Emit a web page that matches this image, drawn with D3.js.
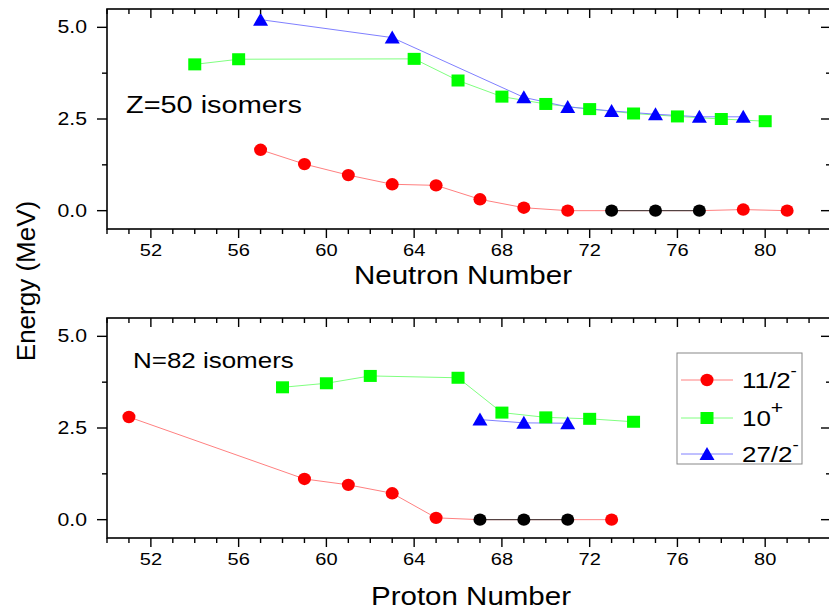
<!DOCTYPE html>
<html><head><meta charset="utf-8">
<script src="https://cdn.jsdelivr.net/npm/d3@7"></script>
<style>body{margin:0;background:#fff}svg{display:block}text{font-family:"Liberation Sans",Arial,sans-serif;fill:#000}</style>
</head><body><svg id="c" width="829" height="609"></svg>
<script>
// ---- data ----
const xTicks = [52, 56, 60, 64, 68, 72, 76, 80];
const yTicks = [0.0, 2.5, 5.0];
const legendLabels = ["11/2", "10", "27/2"];
const legendSup = ["-", "+", "-"];

// Z=50 isomers (x = neutron number)
const zRedN = [57, 59, 61, 63, 65, 67, 69, 71, 73, 75, 77, 79, 81];
const zRedE = [1.66, 1.27, 0.97, 0.72, 0.69, 0.31, 0.08, 0.0, 0.0, 0.0, 0.0, 0.03, 0.0];
const zBlackN = [73, 75, 77];
const zGreenN = [54, 56, 64, 66, 68, 70, 72, 74, 76, 78, 80];
const zGreenE = [3.99, 4.13, 4.14, 3.55, 3.11, 2.91, 2.77, 2.65, 2.57, 2.50, 2.44];
const zBlueN = [57, 63, 69, 71, 73, 75, 77, 79];
const zBlueE = [5.21, 4.72, 3.09, 2.83, 2.72, 2.63, 2.56, 2.56];

// N=82 isomers (x = proton number)
const nRedN = [51, 59, 61, 63, 65, 67, 69, 71, 73];
const nRedE = [2.80, 1.11, 0.95, 0.72, 0.05, 0.0, 0.0, 0.0, 0.0];
const nBlackN = [67, 69, 71];
const nGreenN = [58, 60, 62, 66, 68, 70, 72, 74];
const nGreenE = [3.61, 3.72, 3.92, 3.87, 2.92, 2.79, 2.75, 2.67];
const nBlueN = [67, 69, 71];
const nBlueE = [2.73, 2.64, 2.63];

// ---- drawing ----
const svg = d3.select("#c");
const SX = 1.18; // horizontal text stretch
const L = 107, R = 831;
const x = d3.scaleLinear().domain([50, 83]).range([L, R]);
const colors = {red: "#ff0000", green: "#00ff00", blue: "#0000ff"};
const lineColors = {red: "#ff8080", green: "#80ff80", blue: "#8080ff"};

function txt(g, tx, ty, s, size, anchor) {
  return g.append("text").attr("transform", `translate(${tx},${ty}) scale(${SX},1)`)
    .attr("font-size", size).attr("text-anchor", anchor || "start").text(s);
}

function marker(g, kind, cx, cy, fill) {
  if (kind === "circle") {
    g.append("ellipse").attr("cx", cx).attr("cy", cy).attr("rx", 6.5).attr("ry", 6.2).attr("fill", fill);
  } else if (kind === "square") {
    g.append("rect").attr("x", cx - 6.5).attr("y", cy - 6).attr("width", 13).attr("height", 12).attr("fill", fill);
  } else {
    g.append("path").attr("d", `M${cx},${cy - 7}L${cx + 7.5},${cy + 6}L${cx - 7.5},${cy + 6}Z`).attr("fill", fill);
  }
}

function panel(top, bottom, title, titleX, titleY, titleSize, xlabel, xlabelX, xlabelY, red, black, green, blue) {
  const y = d3.scaleLinear().domain([-0.5, 5.5]).range([bottom, top]);
  const g = svg.append("g");
  const line = d3.line().x(d => x(d[0])).y(d => y(d[1]));
  const series = [
    {k: "green", m: "square", d: d3.zip(green[0], green[1])},
    {k: "blue", m: "triangle", d: d3.zip(blue[0], blue[1])},
    {k: "red", m: "circle", d: d3.zip(red[0], red[1])}
  ];
  series.forEach(s => {
    g.append("path").attr("d", line(s.d)).attr("fill", "none")
      .attr("stroke", lineColors[s.k]).attr("stroke-width", 1);
  });
  const blk = d3.zip(red[0], red[1]).filter(d => black.includes(d[0]));
  g.append("path").attr("d", line(blk)).attr("fill", "none").attr("stroke", "#333").attr("stroke-width", 1);
  series.forEach(s => {
    s.d.forEach(d => marker(g, s.m, x(d[0]), y(d[1]),
      (s.k === "red" && black.includes(d[0])) ? "#000" : colors[s.k]));
  });

  g.append("rect").attr("x", L).attr("y", top).attr("width", R - L).attr("height", bottom - top)
    .attr("fill", "none").attr("stroke", "#000").attr("stroke-width", 1.6);

  d3.range(50, 84, 1).forEach(v => {
    const len = xTicks.includes(v) ? 9 : 5;
    g.append("line").attr("x1", x(v)).attr("x2", x(v)).attr("y1", bottom).attr("y2", bottom + len).attr("stroke", "#000").attr("stroke-width", 1.4);
    g.append("line").attr("x1", x(v)).attr("x2", x(v)).attr("y1", top).attr("y2", top + len).attr("stroke", "#000").attr("stroke-width", 1.4);
  });
  xTicks.forEach(v => txt(g, x(v), bottom + 27, String(v), 17, "middle"));

  [0, 1.25, 2.5, 3.75, 5].forEach(v => {
    const len = yTicks.includes(v) ? 10 : 5;
    g.append("line").attr("x1", L - len).attr("x2", L).attr("y1", y(v)).attr("y2", y(v)).attr("stroke", "#000").attr("stroke-width", 1.4);
    g.append("line").attr("x1", R - len).attr("x2", R).attr("y1", y(v)).attr("y2", y(v)).attr("stroke", "#000").attr("stroke-width", 1.4);
  });
  yTicks.forEach(v => txt(g, 87, y(v) + 6, v.toFixed(1), 18, "end"));

  txt(g, titleX, titleY, title, titleSize);
  txt(g, xlabelX, xlabelY, xlabel, 25, "middle");
  return y;
}

panel(9, 229, "Z=50 isomers", 126, 113, 24.5, "Neutron Number", 463, 284,
  [zRedN, zRedE], zBlackN, [zGreenN, zGreenE], [zBlueN, zBlueE]);
panel(318, 538, "N=82 isomers", 133, 368, 22, "Proton Number", 471, 605,
  [nRedN, nRedE], nBlackN, [nGreenN, nGreenE], [nBlueN, nBlueE]);

svg.append("text").attr("transform", "translate(35,281) rotate(-90)")
  .attr("font-size", 26).attr("text-anchor", "middle").text("Energy (MeV)");

const lg = svg.append("g");
lg.append("rect").attr("x", 677).attr("y", 353).attr("width", 125).attr("height", 111)
  .attr("fill", "#fff").attr("stroke", "#888").attr("stroke-width", 1);
const legKinds = [["red", "circle"], ["green", "square"], ["blue", "triangle"]];
const legY = [380, 418, 454];
legendLabels.forEach((lab, i) => {
  const k = legKinds[i][0];
  lg.append("line").attr("x1", 681).attr("x2", 733).attr("y1", legY[i]).attr("y2", legY[i])
    .attr("stroke", lineColors[k]).attr("stroke-width", 1);
  marker(lg, legKinds[i][1], 707, legY[i], colors[k]);
  const t = lg.append("text").attr("transform", `translate(742,${legY[i] + 8}) scale(${SX},1)`)
    .attr("font-size", 22);
  t.append("tspan").text(lab);
  t.append("tspan").attr("dy", -12).attr("font-size", legendSup[i] === "+" ? 18 : 16).text(legendSup[i]);
});
</script></body></html>
